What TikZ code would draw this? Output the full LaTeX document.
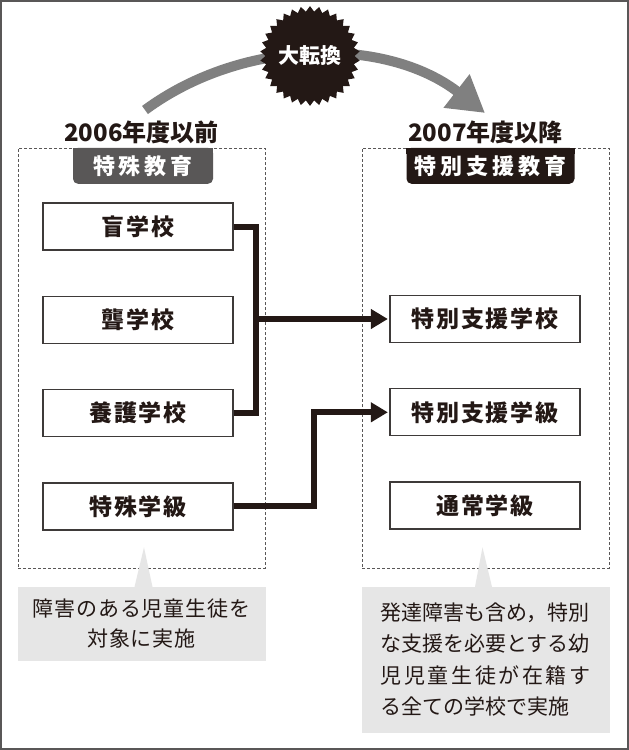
\documentclass[tikz,border=0pt]{standalone}
\usepackage{fontspec}
\setmainfont{Noto Sans CJK JP}
\newfontfamily\boxfont[LetterSpace=8]{Noto Sans CJK JP}
\newfontfamily\tagfont[LetterSpace=18]{Noto Sans CJK JP}
\newfontfamily\notefont[LetterSpace=4]{Noto Sans CJK JP}
\usetikzlibrary{arrows.meta, positioning, shapes.geometric, calc}
\definecolor{inkblack}{RGB}{35,24,21}
\definecolor{tagdark}{RGB}{89,87,87}
\definecolor{arcgray}{RGB}{128,128,128}
\definecolor{notegray}{RGB}{230,230,230}
\definecolor{framegray}{RGB}{89,87,87}
\definecolor{boxgray}{RGB}{62,58,57}

\begin{document}
\begin{tikzpicture}[x=1pt, y=-1pt,
		node distance=45pt,
		era/.style={draw=framegray, dash pattern=on 3pt off 2pt, line width=0.8pt,
			minimum width=247pt, minimum height=420pt, inner sep=0pt},
		eratitle/.style={inner sep=0pt, text=inkblack,
			font=\bfseries\fontsize{24}{24}\selectfont},
		tag/.style={rounded corners=5pt, minimum height=36pt, inner sep=0pt, text=white,
			font=\tagfont\bfseries\fontsize{22}{22}\selectfont},
		school/.style={draw=boxgray, line width=1.3pt, fill=white, minimum width=190pt,
			minimum height=47pt, inner sep=0pt, text=inkblack,
			font=\boxfont\bfseries\fontsize{23}{23}\selectfont},
		note/.style={fill=notegray, minimum width=248pt, inner sep=0pt, text=inkblack},
		burst/.style={star, star points=34, star point ratio=1.12, fill=inkblack,
			minimum size=84pt, inner sep=0pt, text=white,
			font=\bfseries\fontsize{21}{21}\selectfont},
		link/.style={draw=inkblack, line width=6pt, line join=miter},
		linkarrow/.style={link, -{Triangle[length=17pt, width=19pt]}, shorten >=1.5pt}
	]
		\useasboundingbox (0,0) rectangle (629,750);
		\fill[white] (0,0) rectangle (629,750);
		\draw[framegray, line width=1.5pt] (1,1) rectangle (628,749);

		% eras
		\node[era] (oldera) at (141.5,358) {};
		\node[era] (newera) at (485.5,358) {};
		\node[eratitle, above=4pt of oldera.north] (oldyear) {2006年度以前};
		\node[eratitle, above=4pt of newera.north] (newyear) {2007年度以降};
		\node[tag, fill=tagdark, minimum width=140pt, below=0pt of oldera.north, xshift=1.5pt] (oldtag) {特殊教育};
		\fill[tagdark] (oldtag.north west) rectangle ($(oldtag.north east)+(0,6)$);
		\node[tag, fill=inkblack, minimum width=168pt, below=0pt of newera.north, xshift=5pt] (newtag) {特別支援教育};
		\fill[inkblack] (newtag.north west) rectangle ($(newtag.north east)+(0,6)$);

		% the shift
		\draw[arcgray, line width=10pt, -{Triangle[length=36pt, width=40pt]}]
			(145,110) .. controls (244,37) and (387,37) .. (485,113);
		\node[burst] (shift) at (310,56) {大転換};

		% schools
		\node[school] (mou) at (138,226.5) {盲学校};
		\node[school, below=of mou] (rou) {聾学校};
		\node[school, below=of rou] (yougo) {養護学校};
		\node[school, below=of yougo] (tokkyu) {特殊学級};
		\node[school] (shienko) at (485,319) {特別支援学校};
		\node[school, below=of shienko] (shienkyu) {特別支援学級};
		\node[school, below=of shienkyu] (tsujo) {通常学級};

		\draw[link] (mou.east) -- ++(22,0) coordinate (merge) |- (yougo.east);
		\draw[linkarrow] (merge |- shienko.west) -- (shienko.west);
		\draw[linkarrow] (tokkyu.east) -- ++(80,0) |- (shienkyu.west);

		% notes
		\node[note, minimum height=74pt, below=18pt of oldera.south, align=center,
			font=\notefont\fontsize{21}{30}\selectfont] (oldnote) {障害のある児童生徒を\\対象に実施};
		\node[note, minimum height=146pt, below=18pt of newera.south, align=left,
			font=\fontsize{21}{31.3}\selectfont] (newnote) {発達障害も含め，特別\\
			な支援を必要とする幼\\
			\hbox to 210pt{児\hfil 児\hfil 童\hfil 生\hfil 徒\hfil が\hfil 在\hfil 籍\hfil す}\\
			る全ての学校で実施};
		\fill[notegray] ($(oldera.south)+(2.5,-21)$) -- ($(oldnote.north)+(-7,0.5)$) -- ($(oldnote.north)+(11,0.5)$) -- cycle;
		\fill[notegray] ($(newera.south)+(-3,-21)$) -- ($(newnote.north)+(-10.5,0.5)$) -- ($(newnote.north)+(6.5,0.5)$) -- cycle;
	\end{tikzpicture}
\end{document}
